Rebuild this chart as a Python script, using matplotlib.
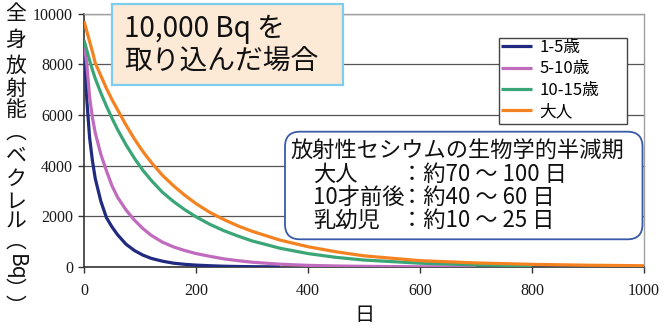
import matplotlib
matplotlib.use('Agg')
import matplotlib.pyplot as plt
from matplotlib.patches import FancyBboxPatch, Rectangle

plt.rcParams['font.family'] = ['Noto Sans CJK JP', 'DejaVu Sans']

# 日数と体内残存量
days = [0, 5, 10, 15, 20, 30, 40, 50, 60, 75, 90, 105, 120, 140, 160, 180,
        200, 225, 250, 275, 300, 350, 400, 450, 500, 600, 700, 800, 900, 1000]
bq_1_5 = [8900, 6600, 5100, 4200, 3500, 2600, 1950, 1580, 1270, 900, 650, 470,
          340, 230, 150, 105, 75, 50, 30, 20, 12, 5]
bq_5_10 = [8900, 8000, 6700, 5900, 5300, 4450, 3800, 3200, 2750, 2250, 1850,
           1520, 1250, 980, 790, 650, 530, 420, 320, 250, 190, 110, 65, 40, 25,
           10, 3]
bq_10_15 = [8950, 8550, 8150, 7780, 7440, 6870, 6350, 5870, 5420, 4820, 4290,
            3820, 3420, 2950, 2580, 2260, 1980, 1680, 1430, 1220, 1030, 740,
            530, 380, 275, 150, 85, 45]
bq_adult = [9700, 9300, 8900, 8500, 8050, 7550, 7050, 6600, 6200, 5600, 5050,
            4560, 4130, 3620, 3200, 2830, 2500, 2150, 1870, 1620, 1410, 1060,
            800, 600, 440, 250, 160, 105, 70, 50]

labels = ['1-5歳', '5-10歳', '10-15歳', '大人']
colors = ['#1f2a80', '#c06bbe', '#3aa577', '#f58220']
series = [bq_1_5, bq_5_10, bq_10_15, bq_adult]

xticks = [0, 200, 400, 600, 800, 1000]
yticks = [0, 2000, 4000, 6000, 8000, 10000]

ylabel_chars = ['全', '身', '放', '射', '能', '︵', 'ベ', 'ク', 'レ', 'ル', '︵', 'Bq', '︶', '︶']
ylabel_ypos = [14, 40, 66, 89, 110, 133, 156, 179, 202, 222, 242, 267, 290, 307]

note_title = '放射性セシウムの生物学的半減期'
note_rows = ['大人', '10才前後', '乳幼児']
note_vals = ['：約70 ～ 100 日', '：約40 ～ 60 日', '：約10 ～ 25 日']

W, H = 667, 328
fig = plt.figure(figsize=(W / 100, H / 100), dpi=100)
ax = fig.add_axes([84 / W, 1 - 267 / H, (644 - 84) / W, (267 - 13.5) / H])


def px(x, y):
    # ピクセル座標 -> インチ（dpi_scale_trans用）
    return x / 100, (H - y) / 100


for vals, lab, c in zip(series, labels, colors):
    ax.plot(days[:len(vals)], vals, color=c, lw=2.3, label=lab, zorder=3,
            solid_capstyle='butt')

ax.set_xlim(0, 1000)
ax.set_ylim(0, 10000)
ax.set_xticks(xticks)
ax.set_yticks(yticks)
ax.grid(axis='y', color='#555555', lw=0.9)
for s in ['left', 'bottom']:
    ax.spines[s].set_color('#333333')
    ax.spines[s].set_linewidth(1.2)
for s in ['top', 'right']:
    ax.spines[s].set_color('#a0a0a0')
    ax.spines[s].set_linewidth(1.0)
ax.tick_params(axis='both', direction='out', length=4.5, width=1.0,
               color='#333333', top=False, right=False,
               labelfontfamily='Liberation Serif', labelsize=11.5,
               labelcolor='#1a1a1a')
ax.tick_params(axis='y', pad=3.5)
ax.tick_params(axis='x', pad=7)

# 凡例の枠（固定サイズ）
lx0, ly0 = px(499, 124)
lx1, ly1 = px(627, 38)
ax.add_patch(Rectangle((lx0, ly0), lx1 - lx0, ly1 - ly0, fc='white',
                       ec='#444444', lw=1.0, transform=fig.dpi_scale_trans,
                       clip_on=False, zorder=4))
leg = ax.legend(loc='upper left', bbox_to_anchor=(500 / W, 1 - 38.5 / H),
                bbox_transform=fig.transFigure, borderaxespad=0, fontsize=12,
                frameon=False, handlelength=1.85, handletextpad=0.45,
                labelspacing=0.25, borderpad=0.05)
leg.set_zorder(5)

# 縦書きの軸ラベル
for ch, yy in zip(ylabel_chars, ylabel_ypos):
    rot = -90 if ch == 'Bq' else 0
    fig.text(*px(16, yy), ch, transform=fig.dpi_scale_trans, fontsize=15,
             ha='center', va='center', rotation=rot, color='#111111')

fig.text(*px(364, 316), '日', transform=fig.dpi_scale_trans, fontsize=14.5,
         ha='center', va='center', color='#111111')

# タイトルの箱
x0, y0 = px(111.7, 85)
x1, y1 = px(342.7, 4)
fig.patches.append(FancyBboxPatch((x0, y0), x1 - x0, y1 - y0,
                                  boxstyle='square,pad=0', fc='#fce9d6',
                                  ec='#7ccdee', lw=1.6,
                                  transform=fig.dpi_scale_trans, zorder=4))
fig.text(*px(124, 29), '10,000 Bq を', transform=fig.dpi_scale_trans,
         fontsize=20, ha='left', va='center', color='#111111', zorder=5)
fig.text(*px(124, 61), '取り込んだ場合', transform=fig.dpi_scale_trans,
         fontsize=20, ha='left', va='center', color='#111111', zorder=5)

# 半減期の説明
x0, y0 = px(285, 239.3)
x1, y1 = px(642.5, 131.7)
fig.patches.append(FancyBboxPatch((x0, y0), x1 - x0, y1 - y0,
                                  boxstyle='round,pad=0,rounding_size=0.15',
                                  fc='white', ec='#3a5aa8', lw=1.3,
                                  transform=fig.dpi_scale_trans, zorder=4))
fig.text(*px(290, 151), note_title, transform=fig.dpi_scale_trans,
         fontsize=16, ha='left', va='center', color='#111111', zorder=5)
for i, (r, v) in enumerate(zip(note_rows, note_vals)):
    yy = 174 + i * 23.3
    fig.text(*px(313, yy), r, transform=fig.dpi_scale_trans, fontsize=16,
             ha='left', va='center', color='#111111', zorder=5)
    fig.text(*px(401.5, yy), v, transform=fig.dpi_scale_trans, fontsize=16,
             ha='left', va='center', color='#111111', zorder=5)

fig.savefig('out.png', dpi=100)
